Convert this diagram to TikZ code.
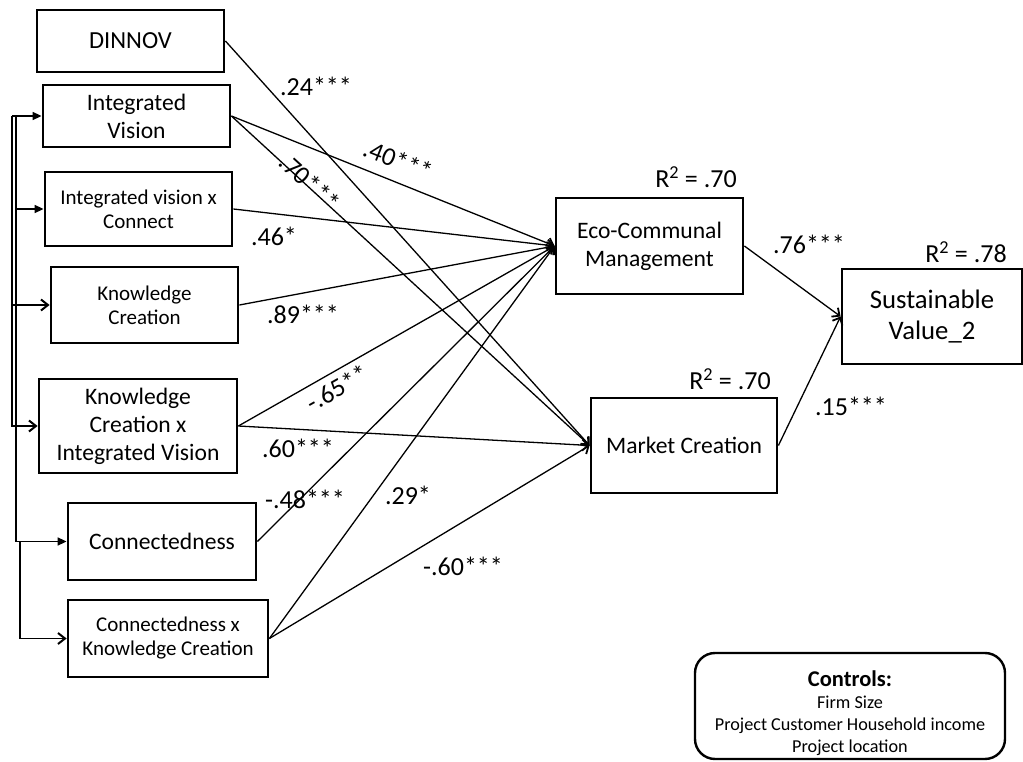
\documentclass[tikz,border=0pt]{standalone}
\usepackage{fontspec}
\setmainfont{Carlito}
\usetikzlibrary{arrows.meta}

\begin{document}
\begin{tikzpicture}[x=1pt,y=-1pt,
  box/.style={draw,line width=2.8pt,align=center,inner sep=0pt},
  bigtxt/.style={font=\fontsize{23.6}{28}\selectfont},
  smalltxt/.style={font=\fontsize{21}{24}\selectfont},
  coef/.style={font=\fontsize{26}{28}\selectfont,inner sep=0pt},
  conn/.style={line width=1.3pt,-{Straight Barb[length=6pt,width=11pt,line width=1.8pt]}},
  fbopen/.style={line width=1.6pt,-{Straight Barb[length=7pt,width=11pt,line width=2pt]}},
  fbfill/.style={line width=1.6pt,-{Triangle[length=9pt,width=8pt]}},
  ctltxt/.style={anchor=base,font=\fontsize{18.2}{20}\selectfont},
]
\path[use as bounding box,fill=white] (0,0) rectangle (1023,762);

% predictors
\node[box,font=\fontsize{24.5}{28}\selectfont,minimum width=187,minimum height=62] (din) at (130.5,41) {DINNOV};
\node[box,bigtxt,minimum width=187,minimum height=62] (iv) at (136.5,116) {Integrated\\Vision};
\node[box,smalltxt,minimum width=187,minimum height=74] (ivc) at (138.5,209) {Integrated vision x\\Connect};
\node[box,smalltxt,minimum width=187,minimum height=76] (kc) at (144.5,305) {Knowledge\\Creation};
\node[box,bigtxt,minimum width=198,minimum height=94] (kciv) at (138,426) {Knowledge\\Creation x\\Integrated Vision};
\node[box,bigtxt,minimum width=188,minimum height=77] (con) at (162,541.5) {Connectedness};
\node[box,smalltxt,minimum width=200,minimum height=77] (ckc) at (168,638.5) {Connectedness x\\Knowledge Creation};

% mediators and outcome
\node[box,bigtxt,minimum width=187,minimum height=96] (eco) at (649.5,246) {Eco-Communal\\Management};
\node[box,bigtxt,minimum width=186,minimum height=95] (mc) at (684,445.5) {Market Creation};
\node[box,font=\fontsize{26.7}{31}\selectfont,minimum width=180,minimum height=95] (sv) at (932,316.5) {Sustainable\\Value\_2};

% paths
\draw[conn] (din.east) -- (mc.west);
\draw[conn] (iv.east) -- (eco.west);
\draw[conn] (iv.east) -- (mc.west);
\draw[conn] (ivc.east) -- (eco.west);
\draw[conn] (kc.east) -- (eco.west);
\draw[conn] (kciv.east) -- (eco.west);
\draw[conn] (kciv.east) -- (mc.west);
\draw[conn] (con.east) -- (eco.west);
\draw[conn] (ckc.east) -- (eco.west);
\draw[conn] (ckc.east) -- (mc.west);
\draw[conn] (eco.east) -- (sv.west);
\draw[conn] (mc.east) -- (sv.west);

% coefficients
\node[coef] (l24) at (316,86) {.24***};
\node[coef,rotate=-21.7] (l40) at (398,160) {.40***};
\node[coef,rotate=-42.3] (l70) at (310,182) {.70***};
\node[coef] (l46) at (274,236) {.46*};
\node[coef] (l89) at (303,314) {.89***};
\node[coef,rotate=29.4] (l65) at (337,388) {-.65**};
\node[coef] (l60) at (298,448) {.60***};
\node[coef] (l48) at (305,499) {-.48***};
\node[coef] (l29) at (408,495) {.29*};
\node[coef] (l60b) at (463,566) {-.60***};
\node[coef] (l76) at (809,244) {.76***};
\node[coef] (l15) at (851,406) {.15***};

% explained variance
\node[coef] (r1) at (696,177) {R\textsuperscript{2} = .70};
\node[coef] (r2) at (966,252) {R\textsuperscript{2} = .78};
\node[coef] (r3) at (730,379) {R\textsuperscript{2} = .70};

% correlation bus on the left
\coordinate (ba) at (12,116);
\coordinate (bb) at (16,116);
\coordinate (bc) at (20,541.5);
\draw[fbfill] (ba) -- (iv.west);
\draw[fbopen] (ba) |- (kciv.west);
\draw[fbopen] (ba |- kc.west) -- (kc.west);
\draw[fbfill] (bb) |- (con.west);
\draw[fbfill] (bb |- ivc.west) -- (ivc.west);
\draw[fbopen] (bc) |- (ckc.west);

% controls
\node[draw,line width=2.4pt,rounded corners=20pt,minimum width=310,minimum height=106] (ctl) at (850,706) {};
\node[ctltxt,font=\bfseries\fontsize{22.5}{23}\selectfont] (ctlhead) at (850,686) {Controls:};
\node[ctltxt] (ctl1) at (850,708) {Firm Size};
\node[ctltxt] (ctl2) at (850,730) {Project Customer Household income};
\node[ctltxt] (ctl3) at (850,752) {Project location};
\end{tikzpicture}
\end{document}
